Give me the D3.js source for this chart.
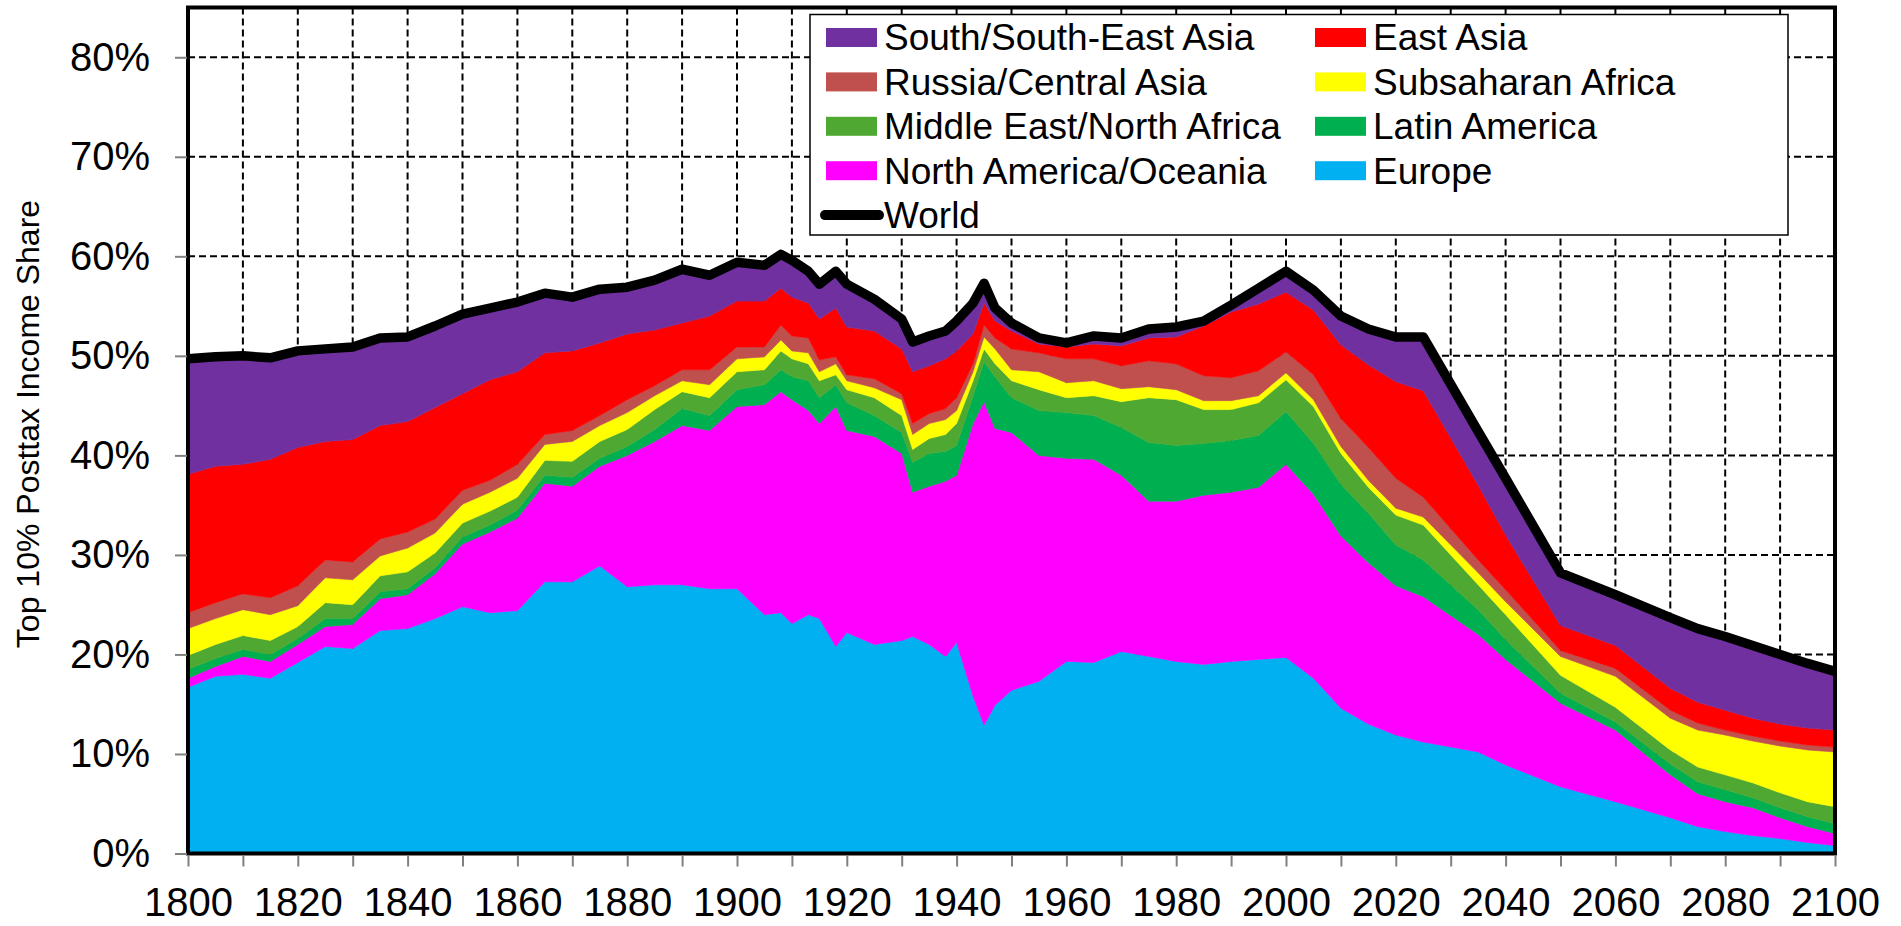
<!DOCTYPE html>
<html>
<head>
<meta charset="utf-8">
<script src="https://cdn.jsdelivr.net/npm/d3@7"></script>
<style>
  html, body { margin: 0; padding: 0; background: #fff; }
  svg { display: block; }
  text { font-family: "Liberation Sans", Arial, sans-serif; }
</style>
</head>
<body>
<svg id="chart" width="1901" height="926"></svg>
<script>
// ---------------- DATA (top 10% post-tax income share contributions, %) ----------------
const years = [1800,1805,1810,1815,1820,1825,1830,1835,1840,1845,1850,1855,1860,1865,1870,1875,1880,1885,1890,1895,1900,1905,1908,1910,1913,1915,1918,1920,1925,1930,1932,1935,1938,1940,1943,1945,1947,1950,1955,1960,1965,1970,1975,1980,1985,1990,1995,2000,2005,2010,2015,2020,2025,2035,2040,2050,2060,2070,2075,2080,2085,2090,2095,2100];

const europe = [16.7,17.8,18.0,17.6,19.2,20.8,20.6,22.4,22.6,23.6,24.8,24.2,24.4,27.3,27.3,28.9,26.8,27.0,27.0,26.6,26.6,24.0,24.2,23.1,24.0,23.6,20.8,22.2,21.0,21.4,21.8,21.0,19.8,21.2,15.8,12.9,14.9,16.4,17.3,19.3,19.2,20.3,19.8,19.3,19.0,19.3,19.5,19.7,17.6,14.6,13.0,11.9,11.2,10.2,8.9,6.7,5.2,3.6,2.7,2.2,1.8,1.5,1.1,0.8];

const northAmericaOceania = [0.9,1.0,1.8,1.7,1.8,2.0,2.4,3.2,3.4,4.5,6.3,8.1,9.3,9.9,9.6,10.0,13.2,14.4,16.0,15.9,18.3,21.1,22.2,22.5,20.5,19.6,24.1,20.3,20.9,18.8,14.5,15.9,17.6,16.8,27.4,32.5,27.8,25.9,22.7,20.4,20.4,17.7,15.6,16.1,17.0,17.0,17.3,19.4,18.5,17.3,16.2,15.0,14.6,11.8,10.6,8.4,7.2,4.3,3.3,3.0,2.8,2.1,1.6,1.2];

const latinAmerica = [0.9,0.8,0.7,0.7,0.6,0.8,0.6,0.7,0.6,0.6,0.7,0.7,0.8,0.8,0.9,0.8,0.9,1.2,1.7,1.5,1.7,2.0,2.2,2.3,3.0,2.6,2.2,2.8,2.1,2.1,3.0,3.3,3.0,3.0,2.8,4.0,5.2,3.5,4.5,4.6,4.4,4.8,5.9,5.6,5.2,5.2,5.2,5.3,5.1,5.2,5.0,4.1,3.7,2.5,2.0,1.0,0.8,1.1,1.2,1.2,1.0,1.0,1.0,1.0];

const middleEastNorthAfrica = [1.4,1.4,1.4,1.4,1.2,1.6,1.4,1.6,1.7,1.5,1.4,1.4,1.3,1.5,1.6,1.7,1.7,2.0,1.7,1.8,1.8,1.5,1.9,1.8,1.7,1.7,1.0,1.3,1.8,1.7,1.3,1.5,1.7,2.2,1.5,1.3,1.3,1.7,2.1,1.5,2.0,2.6,4.5,4.6,3.4,3.1,3.3,3.2,3.7,3.1,2.6,3.0,3.5,2.5,2.5,1.8,1.5,1.4,1.5,1.5,1.5,1.5,1.5,1.7];

const subsaharanAfrica = [2.7,2.6,2.6,2.6,2.1,2.5,2.5,2.0,2.4,2.0,1.9,1.9,1.9,1.6,2.0,1.6,1.7,1.4,1.1,1.3,1.3,1.3,1.1,0.8,1.1,0.9,1.1,0.9,1.0,1.6,1.5,1.5,1.5,1.3,0.9,1.2,1.5,1.1,1.8,1.5,1.5,1.3,1.1,1.0,0.9,0.9,0.7,0.7,0.7,0.7,0.7,0.7,0.8,1.2,1.3,1.9,3.1,3.2,3.7,4.0,4.2,4.7,5.2,5.5];

const russiaCentralAsia = [1.6,1.6,1.6,1.7,2.0,1.8,1.8,1.7,1.6,1.4,1.4,1.2,1.4,1.0,1.1,1.0,1.3,1.0,1.1,1.5,1.2,1.0,1.5,1.5,1.5,1.2,0.7,0.6,0.9,0.6,1.1,1.0,1.1,1.3,0.8,1.2,1.1,2.1,1.9,2.4,2.2,2.3,2.6,2.6,2.5,2.3,2.5,2.1,2.5,2.8,3.3,3.0,2.0,1.3,1.2,0.6,0.8,0.8,0.7,0.5,0.5,0.5,0.5,0.5];

const eastAsia = [13.9,13.7,13.0,13.9,13.9,11.9,12.3,11.4,11.1,11.2,9.7,10.1,9.3,8.2,8.0,7.3,6.6,5.6,4.7,5.4,4.6,4.6,3.7,3.9,3.5,4.1,4.9,4.8,4.8,4.5,5.2,4.8,5.0,4.7,3.0,2.2,1.7,1.8,0.9,1.2,1.5,2.0,2.3,2.7,5.0,6.6,6.7,6.0,6.5,7.4,8.3,9.7,10.7,7.5,5.5,2.5,2.3,2.2,2.1,2.0,1.8,1.7,1.7,1.7];

const southSouthEastAsia = [11.6,11.0,10.9,10.2,9.7,9.3,9.3,8.8,8.5,8.2,8.0,7.2,7.0,6.0,5.4,5.4,4.7,5.0,5.4,4.1,3.9,3.6,3.4,3.7,3.2,3.5,3.7,4.3,3.2,3.0,3.0,3.0,2.8,3.0,3.1,2.0,1.3,0.8,0.6,0.4,0.8,0.8,0.9,1.0,0.5,0.7,1.6,2.1,2.0,2.9,3.6,4.5,5.4,5.4,5.7,5.3,5.1,7.1,7.4,7.4,7.3,7.0,6.5,5.9];

// stacking order: bottom to top
const seriesKeys = ["Europe","North America/Oceania","Latin America","Middle East/North Africa","Subsaharan Africa","Russia/Central Asia","East Asia","South/South-East Asia"];
const seriesValues = [europe, northAmericaOceania, latinAmerica, middleEastNorthAfrica, subsaharanAfrica, russiaCentralAsia, eastAsia, southSouthEastAsia];
const seriesColors = ["#00B0F0","#FF00FF","#00B050","#4FA832","#FFFF00","#C0504D","#FF0000","#7030A0"];

const xTickYears = d3.range(1800, 2101, 10);
const xLabelYears = d3.range(1800, 2101, 20);
const yTickValues = d3.range(0, 81, 10);

const legendRows = [
  ["South/South-East Asia", "East Asia"],
  ["Russia/Central Asia", "Subsaharan Africa"],
  ["Middle East/North Africa", "Latin America"],
  ["North America/Oceania", "Europe"],
  ["World", null]
];

// ---------------- CHART ----------------
const svg = d3.select("#chart");
const x = d3.scaleLinear().domain([1800, 2100]).range([188, 1835]);
const y = d3.scaleLinear().domain([0, 85]).range([853.5, 7.5]);
const colorOf = d3.scaleOrdinal().domain(seriesKeys).range(seriesColors);

const table = years.map((yr, i) => {
  const row = { year: yr };
  seriesKeys.forEach((k, j) => { row[k] = seriesValues[j][i]; });
  return row;
});
const stacked = d3.stack().keys(seriesKeys)(table);

// grid
const gridG = svg.append("g");
gridG.append("g").selectAll("line").data(d3.range(1810, 2100, 10)).join("line")
  .attr("x1", d => x(d)).attr("x2", d => x(d))
  .attr("y1", y(85)).attr("y2", y(0))
  .attr("stroke", "#000").attr("stroke-width", 2).attr("stroke-dasharray", "7,4");
gridG.append("g").selectAll("line").data(d3.range(10, 81, 10)).join("line")
  .attr("x1", x(1800)).attr("x2", x(2100))
  .attr("y1", d => y(d)).attr("y2", d => y(d))
  .attr("stroke", "#000").attr("stroke-width", 2).attr("stroke-dasharray", "7,4");

// areas
const area = d3.area()
  .x(d => x(d.data.year))
  .y0(d => y(d[0]))
  .y1(d => y(d[1]));
svg.append("g").selectAll("path").data(stacked).join("path")
  .attr("d", area)
  .attr("fill", d => colorOf(d.key))
  .attr("stroke", d => colorOf(d.key))
  .attr("stroke-width", 0.6);

// world line (sum of regions = top of stack)
const topLayer = stacked[stacked.length - 1];
const worldLine = d3.line().x(d => x(d.data.year)).y(d => y(d[1]));
svg.append("path").datum(topLayer)
  .attr("d", worldLine)
  .attr("fill", "none").attr("stroke", "#000")
  .attr("stroke-width", 9.5).attr("stroke-linejoin", "round");

// plot border
svg.append("rect")
  .attr("x", x(1800)).attr("y", y(85))
  .attr("width", x(2100) - x(1800)).attr("height", y(0) - y(85))
  .attr("fill", "none").attr("stroke", "#000").attr("stroke-width", 4);

// y axis
svg.append("g").attr("transform", `translate(${x(1800) - 1},0)`)
  .call(d3.axisLeft(y).tickValues(yTickValues).tickFormat(d => d + "%").tickSize(12).tickPadding(25))
  .call(g => g.select(".domain").remove())
  .call(g => g.selectAll(".tick line").attr("stroke", "#808080").attr("stroke-width", 2))
  .call(g => g.selectAll(".tick text").attr("fill", "#000").attr("font-size", 40)
      .attr("font-family", "'Liberation Sans', Arial, sans-serif"));

// x axis
svg.append("g").attr("transform", `translate(0,${y(0) + 2})`)
  .call(d3.axisBottom(x).tickValues(xTickYears)
      .tickFormat(d => xLabelYears.includes(d) ? String(d) : "")
      .tickSize(11).tickPadding(21))
  .call(g => g.select(".domain").remove())
  .call(g => g.selectAll(".tick line").attr("stroke", "#808080").attr("stroke-width", 2))
  .call(g => g.selectAll(".tick text").attr("fill", "#000").attr("font-size", 40)
      .attr("font-family", "'Liberation Sans', Arial, sans-serif"));

// y axis title
svg.append("text")
  .attr("transform", "translate(39,424) rotate(-90)")
  .attr("text-anchor", "middle")
  .attr("font-size", 32)
  .attr("fill", "#000")
  .text("Top 10% Posttax Income Share");

// legend
const lg = svg.append("g");
lg.append("rect").attr("x", 810).attr("y", 14.5).attr("width", 978).attr("height", 220.5)
  .attr("fill", "#fff").attr("stroke", "#000").attr("stroke-width", 1.5);
const colX = [826, 1315];
const rowY0 = 37.5, rowStep = 44.4;
legendRows.forEach((row, ri) => {
  row.forEach((name, ci) => {
    if (!name) return;
    const cy = rowY0 + ri * rowStep;
    const sx = colX[ci];
    if (name === "World") {
      lg.append("line").attr("x1", sx - 1).attr("x2", sx + 53).attr("y1", cy).attr("y2", cy)
        .attr("stroke", "#000").attr("stroke-width", 10).attr("stroke-linecap", "round");
    } else {
      lg.append("rect").attr("x", sx).attr("y", cy - 9.5).attr("width", 51).attr("height", 19)
        .attr("fill", colorOf(name));
    }
    lg.append("text").attr("x", sx + 58).attr("y", cy).attr("dy", "0.35em")
      .attr("font-size", 37).attr("fill", "#000").text(name);
  });
});
</script>
</body>
</html>
